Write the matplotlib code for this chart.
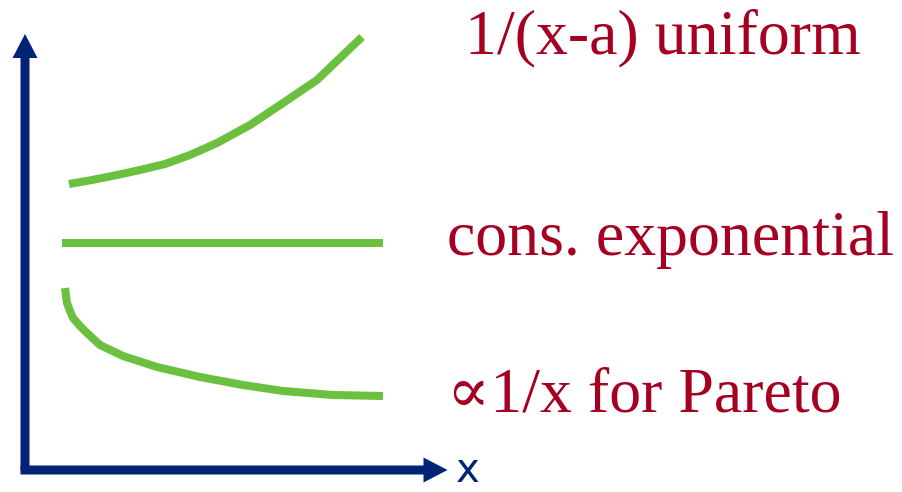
import matplotlib
matplotlib.use("Agg")
import matplotlib.pyplot as plt
from matplotlib.patches import FancyArrow

# curve samples in canvas pixels (x right, y down)
uniform_x = [69, 92, 117, 140, 165, 190, 217, 250, 283, 317, 340, 362]
uniform_y = [184, 180, 175, 170, 164, 155, 143, 125, 103, 80, 58, 37]
expo_x = [62, 383]
expo_y = [243, 243]
pareto_x = [65, 66, 67, 70, 73, 80, 87, 100, 123, 157, 200, 243, 283, 333, 383]
pareto_y = [288, 296, 303, 311, 318, 326, 333, 345, 356, 367, 377, 385, 391, 395, 396]

labels = ["1/(x-a) uniform", "cons. exponential", "\u221d1/x for Pareto"]
label_x = [465, 447, 447]
label_y = [38, 240, 397]

NAVY = "#002277"
GREEN = "#6cc040"
RED = "#a50021"

fig = plt.figure(figsize=(9.02, 4.92), dpi=100)
ax = fig.add_axes([0, 0, 1, 1])
ax.set_xlim(0, 902)
ax.set_ylim(492, 0)
ax.axis("off")

# axes arrows
ax.add_patch(FancyArrow(25, 470, 0, -436, width=9, head_width=25, head_length=24,
                        length_includes_head=True, color=NAVY, lw=0))
ax.add_patch(FancyArrow(20.5, 470, 427, 0, width=9, head_width=25, head_length=24,
                        length_includes_head=True, color=NAVY, lw=0))
ax.text(468, 491, "x", fontsize=29, color=NAVY, ha="center", va="bottom",
        family="DejaVu Sans")

for xs, ys in [(uniform_x, uniform_y), (expo_x, expo_y), (pareto_x, pareto_y)]:
    ax.plot(xs, ys, color=GREEN, lw=5.8, solid_capstyle="butt",
            solid_joinstyle="round")

for t, x, y in zip(labels, label_x, label_y):
    ax.text(x, y, t, fontsize=46, color=RED, ha="left", va="center",
            family=["Liberation Serif", "DejaVu Serif"])

fig.savefig("out.png", dpi=100)
